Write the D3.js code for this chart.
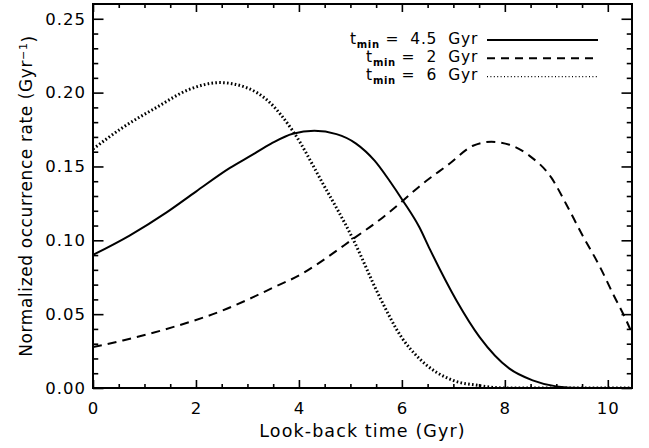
<!DOCTYPE html>
<html>
<head>
<meta charset="utf-8">
<script src="https://cdn.jsdelivr.net/npm/d3@7"></script>
<style>
  body { margin: 0; background: #fff; }
  svg text { font-family: "DejaVu Sans", sans-serif; fill: #000; }
</style>
</head>
<body>
<svg id="chart" width="649" height="448"></svg>
<script>
// look-back time (Gyr) and normalized rate for each t_min
const ageSolid = [0, 0.71, 1.43, 2.0, 2.66, 3.1, 3.46, 3.88, 4.3, 4.73, 5.11, 5.47, 5.76, 6.02, 6.34, 6.54, 7.06, 7.51, 8.09, 8.54, 9.0, 9.5, 10.47];
const rateSolid = [0.0901, 0.1032, 0.1189, 0.1330, 0.149, 0.158, 0.1655, 0.1722, 0.1741, 0.1719, 0.1655, 0.1539, 0.1403, 0.1268, 0.1088, 0.0942, 0.0593, 0.0345, 0.0131, 0.0052, 0.0011, 0, 0];

const ageDashed = [0, 0.58, 1.55, 2.52, 3.11, 3.5, 4.07, 4.34, 5.05, 5.63, 6.02, 6.34, 6.93, 7.38, 7.74, 8.09, 8.48, 8.9, 9.19, 9.51, 9.84, 10.1, 10.36, 10.47];
const rateDashed = [0.0277, 0.0322, 0.0412, 0.0525, 0.0615, 0.068, 0.0775, 0.0835, 0.1009, 0.1155, 0.1268, 0.1365, 0.152, 0.164, 0.1667, 0.1647, 0.1572, 0.1426, 0.1246, 0.1032, 0.0825, 0.0638, 0.0457, 0.037];

const ageDotted = [0, 0.58, 1.23, 1.88, 2.46, 2.98, 3.4, 3.88, 4.47, 5.05, 5.57, 6.0, 6.34, 6.99, 7.47, 8.0, 10.47];
const rateDotted = [0.1618, 0.1764, 0.1899, 0.2023, 0.2068, 0.2034, 0.1944, 0.1741, 0.1381, 0.1009, 0.0615, 0.034, 0.0199, 0.0052, 0.0018, 0, 0];

const legendValues = ["4.5", "2", "6"];
const xTicks = [0, 2, 4, 6, 8, 10];
const yTicks = [0, 0.05, 0.10, 0.15, 0.20, 0.25];

// set dimensions and margins
const margin = {top: 4, right: 17, bottom: 60, left: 93};
const width = 649 - margin.left - margin.right;
const height = 448 - margin.top - margin.bottom;

const svg = d3.select("#chart")
  .append("g")
  .attr("transform", `translate(${margin.left}, ${margin.top})`);

const xScale = d3.scaleLinear().domain([0, 10.47]).range([0, width]);
const yScale = d3.scaleLinear().domain([0, 0.26]).range([height, 0]);

const xMinor = d3.range(0, 10.47, 0.5).filter(d => d % 2 !== 0);
const yMinor = d3.range(0, 0.26, 0.01).filter(d => Math.round(d * 100) % 5 !== 0);

const xLen = 8, yLen = 10.5;

function styleAxis(g) {
  g.select(".domain").remove();
  g.selectAll(".tick line").attr("stroke", "#000").attr("stroke-width", 1.6);
}

// bottom axis
svg.append("g")
  .attr("transform", `translate(0, ${height})`)
  .call(d3.axisBottom(xScale).tickValues(xTicks).tickFormat(d3.format("d")).tickSize(-xLen).tickPadding(14))
  .call(styleAxis)
  .selectAll("text")
  .attr("font-size", "16.5px")
  .attr("letter-spacing", "1px");

svg.append("g")
  .attr("transform", `translate(0, ${height})`)
  .call(d3.axisBottom(xScale).tickValues(xMinor).tickFormat("").tickSize(-xLen / 2))
  .call(styleAxis);

// top axis
svg.append("g")
  .call(d3.axisTop(xScale).tickValues(xTicks).tickFormat("").tickSize(-xLen))
  .call(styleAxis);
svg.append("g")
  .call(d3.axisTop(xScale).tickValues(xMinor).tickFormat("").tickSize(-xLen / 2))
  .call(styleAxis);

// left axis
svg.append("g")
  .call(d3.axisLeft(yScale).tickValues(yTicks).tickFormat(d3.format(".2f")).tickSize(-yLen).tickPadding(7))
  .call(styleAxis)
  .selectAll("text")
  .attr("font-size", "16.5px")
  .attr("letter-spacing", "1px");
svg.append("g")
  .call(d3.axisLeft(yScale).tickValues(yMinor).tickFormat("").tickSize(-yLen / 2))
  .call(styleAxis);

// right axis
svg.append("g")
  .attr("transform", `translate(${width}, 0)`)
  .call(d3.axisRight(yScale).tickValues(yTicks).tickFormat("").tickSize(-yLen))
  .call(styleAxis);
svg.append("g")
  .attr("transform", `translate(${width}, 0)`)
  .call(d3.axisRight(yScale).tickValues(yMinor).tickFormat("").tickSize(-yLen / 2))
  .call(styleAxis);

// curves
const line = d3.line()
  .x(d => xScale(d[0]))
  .y(d => yScale(d[1]))
  .curve(d3.curveMonotoneX);

const series = [
  {ages: ageSolid, rates: rateSolid, dash: null, w: 2},
  {ages: ageDashed, rates: rateDashed, dash: "9,6", w: 2},
  {ages: ageDotted, rates: rateDotted, dash: "1.6,2.3", w: 3}
];

svg.append("defs").append("clipPath").attr("id", "clip")
  .append("rect").attr("width", width).attr("height", height);

svg.append("g")
  .attr("clip-path", "url(#clip)")
  .selectAll("path")
  .data(series)
  .enter()
  .append("path")
  .attr("d", s => line(s.ages.map((a, i) => [a, s.rates[i]])))
  .attr("fill", "none")
  .attr("stroke", "#000")
  .attr("stroke-width", s => s.w)
  .attr("stroke-dasharray", s => s.dash);

// frame
svg.append("rect")
  .attr("width", width)
  .attr("height", height)
  .attr("fill", "none")
  .attr("stroke", "#000")
  .attr("stroke-width", 2);

// axis titles
svg.append("text")
  .attr("x", width / 2)
  .attr("y", height + 49)
  .attr("text-anchor", "middle")
  .attr("font-size", "17.5px")
  .attr("letter-spacing", "1.1px")
  .text("Look-back time (Gyr)");

const yTitle = svg.append("text")
  .attr("transform", `translate(-61, ${height / 2}) rotate(-90)`)
  .attr("text-anchor", "middle")
  .attr("font-size", "17px")
  .attr("letter-spacing", "0.6px");
yTitle.append("tspan").text("Normalized occurrence rate (Gyr");
yTitle.append("tspan").attr("dy", "-0.45em").attr("font-size", "11px").text("−1");
yTitle.append("tspan").attr("dy", "0.45em").text(")");

// legend, text right-aligned at legendRight
const legendDash = [null, "8,6", "1,2.4"];
const legendWidth = [2, 2, 1.2];
const legendRight = 478 - margin.left;

legendValues.forEach((v, i) => {
  const yb = 43.5 + i * 18.3 - margin.top;
  const t = svg.append("text")
    .attr("x", 0)
    .attr("y", yb)
    .attr("font-size", "15.5px")
    .attr("letter-spacing", "0.7px");
  t.append("tspan").text("t");
  t.append("tspan").attr("dy", 4).attr("font-size", "10px").attr("font-weight", "bold").text("min");
  t.append("tspan").attr("dy", -4).text("\u00a0=\u00a0\u00a0" + v + "\u00a0\u00a0Gyr");
  const w = t.node().getComputedTextLength();
  t.attr("x", legendRight - w);

  svg.append("line")
    .attr("x1", legendRight + 9)
    .attr("x2", legendRight + 120)
    .attr("y1", yb - 3.5)
    .attr("y2", yb - 3.5)
    .attr("stroke", "#000")
    .attr("stroke-width", legendWidth[i])
    .attr("stroke-dasharray", legendDash[i]);
});
</script>
</body>
</html>
